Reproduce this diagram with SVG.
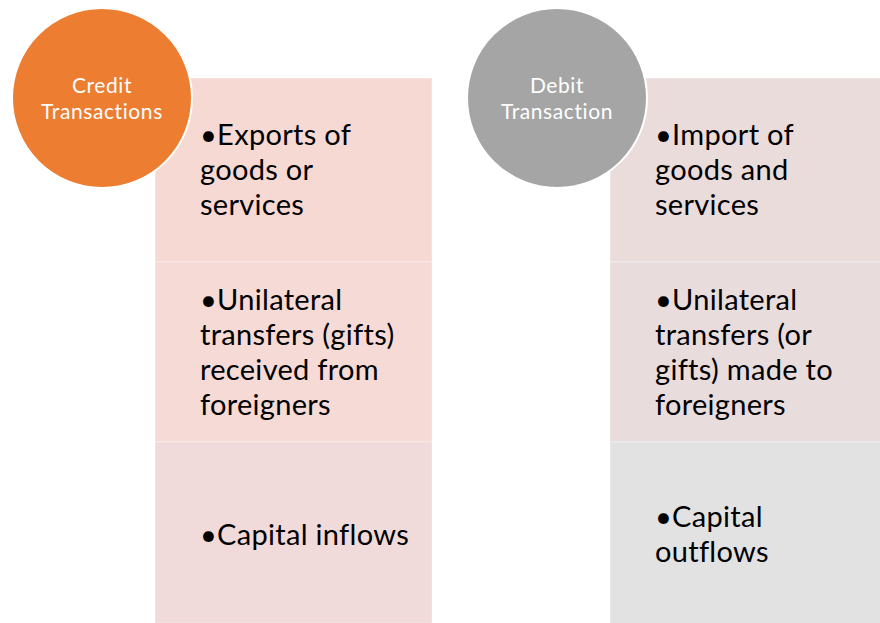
<svg xmlns="http://www.w3.org/2000/svg" width="880" height="623" viewBox="0 0 880 623">
<style>
.box{stroke:#ffffff;stroke-opacity:0.25;stroke-width:1.5}
.t{font-family:Lato,"Open Sans","Liberation Sans",sans-serif;font-size:29px;letter-spacing:0.3px;fill:#000}
.c{font-family:Lato,"Open Sans","Liberation Sans",sans-serif;font-size:21px;letter-spacing:0.6px;fill:#fff;text-anchor:middle}
</style>
<rect width="880" height="623" fill="#ffffff"/>
<g id="credit-list">
<rect class="box" x="155" y="78" width="277" height="184" fill="#F7D9D4"/>
<rect class="box" x="155" y="262" width="277" height="180" fill="#F5DAD6"/>
<rect class="box" x="155" y="442" width="277" height="181" fill="#F0DADA"/>
<text class="t" x="200" y="145">•Exports of</text>
<text class="t" x="200" y="180">goods or</text>
<text class="t" x="200" y="215">services</text>
<text class="t" x="200" y="310">•Unilateral</text>
<text class="t" x="200" y="345">transfers (gifts)</text>
<text class="t" x="200" y="380">received from</text>
<text class="t" x="200" y="415">foreigners</text>
<text class="t" x="200" y="545">•Capital inflows</text>
</g>
<g id="debit-list">
<rect class="box" x="610" y="78" width="272" height="184" fill="#EBDCDC"/>
<rect class="box" x="610" y="262" width="272" height="180" fill="#E9DCDD"/>
<rect class="box" x="610" y="442" width="272" height="183" fill="#E3E2E2"/>
<text class="t" x="655" y="145">•Import of</text>
<text class="t" x="655" y="180">goods and</text>
<text class="t" x="655" y="215">services</text>
<text class="t" x="655" y="310">•Unilateral</text>
<text class="t" x="655" y="345">transfers (or</text>
<text class="t" x="655" y="380">gifts) made to</text>
<text class="t" x="655" y="415">foreigners</text>
<text class="t" x="655" y="527">•Capital</text>
<text class="t" x="655" y="562">outflows</text>
</g>
<g id="credit-circle">
<circle cx="102" cy="98" r="90" fill="#ED7D31" stroke="#ffffff" stroke-width="2"/>
<text class="c" x="102" y="93">Credit</text>
<text class="c" x="102" y="119">Transactions</text>
</g>
<g id="debit-circle">
<circle cx="557" cy="98" r="90" fill="#A5A5A5" stroke="#ffffff" stroke-width="2"/>
<text class="c" x="557" y="93">Debit</text>
<text class="c" x="557" y="119">Transaction</text>
</g>
<g id="connectors"></g>
</svg>
